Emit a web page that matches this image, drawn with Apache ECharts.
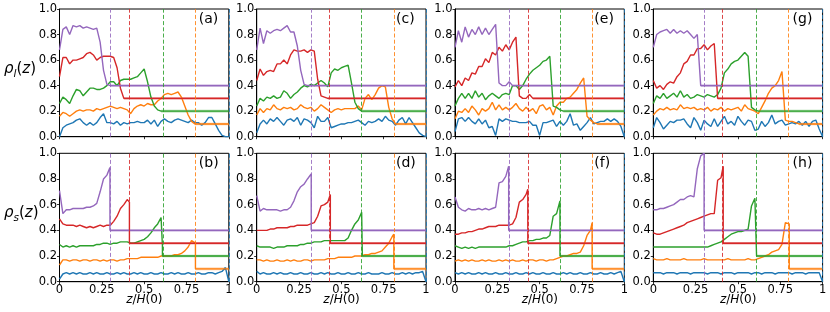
<!DOCTYPE html>
<html><head><meta charset="utf-8">
<script src="https://cdn.jsdelivr.net/npm/echarts@6/dist/echarts.min.js"></script>
<style>html,body{margin:0;padding:0;background:#fff}#c{width:830px;height:312px}</style>
</head><body><div id="c"></div>
<script>
// grid spacing of the sampled profiles (z/H(0))
const STEP = 0.02;
const xTickLabels = ['0', '0.25', '0.5', '0.75', '1'];
const yTickLabels = ['0.0', '0.2', '0.4', '0.6', '0.8', '1.0'];
// bulk densities of the four dense species (purple, red, green, orange)
const tails = [0.4, 0.3, 0.2, 0.1];
// front positions (purple, red, green, orange, blue) per column
const fronts_ab = [0.298, 0.413, 0.608, 0.803, 1.0];
const fronts_cd = [0.322, 0.435, 0.624, 0.81, 1.0];
const fronts_ef = [0.317, 0.43, 0.62, 0.81, 1.0];
const fronts_gh = [0.30, 0.413, 0.61, 0.803, 1.0];

// ---- panel (a): rho_l ----
const a_purple = [0.68,0.84,0.86,0.80,0.87,0.86,0.87,0.85,0.86,0.85,0.84,0.85,0.74,0.52,0.41,0.40];
const a_red = [0.47,0.62,0.62,0.57,0.60,0.60,0.61,0.62,0.65,0.66,0.64,0.60,0.62,0.63,0.63,0.63,0.62,0.54,0.38,0.30];
const a_green = [0.26,0.31,0.29,0.26,0.32,0.37,0.36,0.32,0.35,0.38,0.38,0.37,0.37,0.38,0.40,0.43,0.43,0.40,0.44,0.45,0.45,0.45,0.46,0.47,0.50,0.53,0.43,0.31,0.24,0.21,0.20];
const a_orange = [0.16,0.19,0.18,0.16,0.18,0.20,0.21,0.20,0.21,0.21,0.20,0.22,0.21,0.22,0.23,0.24,0.23,0.22,0.23,0.22,0.21,0.18,0.22,0.24,0.25,0.24,0.26,0.25,0.25,0.28,0.30,0.33,0.34,0.33,0.34,0.35,0.31,0.24,0.17,0.12,0.10];
const a_blue = [0.00,0.07,0.09,0.10,0.11,0.13,0.14,0.11,0.09,0.11, 0.09,0.11,0.15,0.18,0.11,0.11,0.10,0.12,0.09,0.11, 0.10,0.11,0.11,0.12,0.11,0.11,0.13,0.10,0.13,0.08, 0.12,0.14,0.12,0.11,0.13,0.14,0.13,0.12,0.11,0.13, 0.11,0.11,0.09,0.11,0.15,0.15,0.10,0.05,0.01,0.00, 0.00];

// ---- panel (b): rho_s (last value = peak at the front) ----
const b_purple = [0.71,0.53,0.56,0.56,0.57,0.57,0.57,0.57,0.58,0.58,0.59,0.61,0.70,0.80,0.83, 0.89];
const b_red = [0.49,0.45,0.44,0.44,0.44,0.43,0.44,0.43,0.42,0.43,0.42,0.43,0.44,0.43,0.44,0.44,0.47,0.51,0.57,0.60,0.64, 0.62];
const b_green = [0.29,0.27,0.28,0.27,0.28,0.27,0.28,0.28,0.28,0.28, 0.28,0.29,0.29,0.30,0.30,0.29,0.30,0.30,0.31,0.31, 0.31,0.30,0.30,0.31,0.32,0.33,0.35,0.38,0.42,0.45, 0.50, 0.28];
const b_orange = [0.13,0.17,0.17,0.16,0.17,0.17,0.16,0.17,0.17,0.16, 0.17,0.17,0.16,0.17,0.16,0.17,0.17,0.16,0.17,0.17, 0.18,0.18,0.18,0.18,0.19,0.19,0.19,0.19,0.19,0.19, 0.20,0.20,0.20,0.20,0.21,0.21,0.22,0.24,0.27,0.32, 0.30];
const b_blue = [0.02,0.06,0.07,0.06,0.07,0.06,0.07,0.06,0.06,0.07, 0.06,0.07,0.06,0.06,0.07,0.06,0.06,0.07,0.06,0.07, 0.06,0.06,0.07,0.06,0.07,0.06,0.06,0.07,0.06,0.06, 0.07,0.06,0.06,0.07,0.06,0.07,0.06,0.06,0.07,0.06, 0.06,0.07,0.06,0.06,0.07,0.07,0.06,0.07,0.08,0.11, 0.00];

// ---- panel (c) ----
const c_purple = [0.68,0.85,0.73,0.83,0.81,0.83,0.84,0.83,0.85,0.87,0.82,0.82,0.71,0.52,0.41,0.40];
const c_red = [0.44,0.53,0.48,0.51,0.52,0.51,0.57,0.57,0.60,0.57,0.64,0.68,0.67,0.67,0.68,0.66,0.68,0.67,0.45,0.32,0.31,0.30];
const c_green = [0.24,0.30,0.28,0.31,0.30,0.32,0.30,0.31,0.36,0.34, 0.30,0.33,0.35,0.38,0.40,0.39,0.41,0.40,0.42,0.44, 0.42,0.39,0.50,0.53,0.52,0.54,0.55,0.56,0.42,0.27, 0.22,0.20];
const c_orange = [0.17,0.22,0.19,0.22,0.21,0.25,0.22,0.21,0.23,0.22, 0.23,0.21,0.22,0.25,0.23,0.22,0.23,0.20,0.22,0.25, 0.23,0.21,0.19,0.21,0.22,0.21,0.22,0.22,0.22,0.22, 0.24,0.21,0.30,0.33,0.29,0.33,0.38,0.40,0.39,0.23, 0.14,0.10];
const c_blue = [0.03,0.10,0.13,0.10,0.14,0.12,0.15,0.12,0.09,0.13, 0.14,0.12,0.15,0.09,0.14,0.13,0.11,0.07,0.16,0.12, 0.12,0.15,0.07,0.08,0.09,0.10,0.10,0.11,0.11,0.12, 0.13,0.11,0.09,0.12,0.11,0.12,0.14,0.12,0.16,0.13, 0.12,0.09,0.13,0.15,0.10,0.15,0.11,0.07,0.03,0.01, 0.00];

// ---- panel (d) ----
const d_purple = [0.67,0.55,0.57,0.56,0.56,0.56,0.56,0.55,0.56,0.56,0.58,0.63,0.70,0.74,0.76,0.80, 0.84];
const d_red = [0.40,0.40,0.40,0.40,0.41,0.41,0.42,0.42,0.42,0.42,0.43,0.43,0.44,0.44,0.44,0.44,0.45,0.46,0.51,0.59,0.60,0.62, 0.68];
const d_green = [0.28,0.27,0.27,0.27,0.27,0.26,0.27,0.27,0.27,0.28, 0.28,0.28,0.28,0.29,0.29,0.30,0.30,0.31,0.31,0.31, 0.32,0.32,0.32,0.32,0.32,0.32,0.32,0.34,0.40,0.45, 0.48,0.54, 0.55];
const d_orange = [0.17,0.17,0.16,0.17,0.16,0.16,0.17,0.16,0.16,0.17, 0.16,0.17,0.16,0.16,0.17,0.17,0.16,0.17,0.17,0.17, 0.17,0.18,0.18,0.18,0.19,0.19,0.19,0.19,0.19,0.20, 0.20,0.20,0.21,0.21,0.22,0.22,0.23,0.24,0.27,0.30, 0.35, 0.37];
const d_blue = [0.08,0.06,0.07,0.06,0.06,0.07,0.06,0.07,0.06,0.06, 0.07,0.06,0.06,0.07,0.06,0.06,0.07,0.06,0.06,0.07, 0.06,0.07,0.06,0.06,0.07,0.06,0.06,0.07,0.06,0.06, 0.07,0.06,0.06,0.07,0.06,0.06,0.06,0.07,0.06,0.06, 0.07,0.06,0.06,0.07,0.06,0.07,0.06,0.07,0.07,0.08, 0.00];

// ---- panel (e) ----
const e_purple = [0.70,0.83,0.74,0.86,0.78,0.84,0.80,0.86,0.80,0.85,0.80,0.84,0.88,0.42,0.40,0.40,0.43,0.40];
const e_red = [0.39,0.44,0.40,0.46,0.44,0.50,0.49,0.55,0.55,0.61,0.58,0.66,0.64,0.70,0.67,0.72,0.68,0.74,0.78,0.32,0.30,0.30,0.33,0.30];
const e_green = [0.24,0.30,0.34,0.30,0.34,0.30,0.36,0.31,0.34,0.29, 0.32,0.34,0.32,0.30,0.33,0.34,0.33,0.40,0.40,0.37, 0.40,0.45,0.49,0.52,0.54,0.56,0.59,0.60,0.63,0.24, 0.23,0.21,0.20];
const e_orange = [0.14,0.20,0.19,0.22,0.19,0.24,0.21,0.17,0.22,0.20, 0.22,0.27,0.21,0.25,0.21,0.23,0.21,0.23,0.26,0.22, 0.20,0.23,0.20,0.22,0.18,0.24,0.25,0.21,0.23,0.17, 0.24,0.27,0.27,0.30,0.31,0.34,0.37,0.42,0.46,0.16, 0.13,0.11,0.10];
const e_blue = [0.04,0.14,0.15,0.12,0.15,0.12,0.10,0.14,0.10,0.13, 0.07,0.08,0.01,0.14,0.12,0.14,0.13,0.12,0.12,0.11, 0.11,0.11,0.12,0.09,0.09,0.01,0.11,0.11,0.12,0.13, 0.08,0.12,0.09,0.12,0.18,0.09,0.10,0.05,0.08,0.11, 0.15,0.10,0.11,0.12,0.12,0.14,0.12,0.14,0.12,0.08, 0.00];

// ---- panel (f) ----
const f_purple = [0.66,0.58,0.56,0.55,0.57,0.56,0.56,0.57,0.56,0.57,0.56,0.57,0.58,0.77,0.78,0.82, 0.90];
const f_red = [0.37,0.37,0.38,0.38,0.39,0.39,0.40,0.41,0.41,0.42,0.43,0.43,0.43,0.44,0.44,0.44,0.44,0.45,0.50,0.62,0.64,0.68, 0.72];
const f_green = [0.28,0.27,0.26,0.27,0.26,0.27,0.26,0.27,0.27,0.27, 0.27,0.27,0.27,0.27,0.27,0.27,0.28,0.28,0.29,0.30, 0.31,0.31,0.32,0.32,0.33,0.33,0.34,0.34,0.36,0.51, 0.53, 0.63];
const f_orange = [0.16,0.17,0.16,0.17,0.16,0.17,0.16,0.16,0.17,0.16, 0.17,0.16,0.16,0.17,0.16,0.17,0.16,0.17,0.16,0.16, 0.17,0.16,0.17,0.17,0.16,0.17,0.17,0.16,0.17,0.17, 0.18,0.19,0.20,0.20,0.21,0.22,0.22,0.23,0.28,0.36, 0.40, 0.46];
const f_blue = [0.07,0.06,0.07,0.06,0.07,0.06,0.06,0.07,0.06,0.07, 0.06,0.06,0.07,0.06,0.06,0.07,0.06,0.06,0.07,0.06, 0.06,0.07,0.06,0.07,0.06,0.06,0.07,0.06,0.06,0.07, 0.06,0.06,0.07,0.06,0.07,0.06,0.06,0.07,0.06,0.06, 0.07,0.06,0.06,0.07,0.06,0.06,0.07,0.06,0.07,0.08, 0.00];

// ---- panel (g) ----
const g_purple = [0.70,0.80,0.82,0.83,0.84,0.81,0.84,0.81,0.83,0.81,0.83,0.80,0.77,0.80,0.40];
const g_red = [0.44,0.38,0.40,0.37,0.41,0.43,0.42,0.47,0.50,0.57,0.59,0.64,0.64,0.69,0.69,0.72,0.68,0.71,0.73,0.30];
const g_green = [0.26,0.32,0.30,0.34,0.30,0.32,0.34,0.31,0.36,0.31, 0.33,0.30,0.31,0.33,0.32,0.31,0.33,0.32,0.31,0.33, 0.38,0.50,0.53,0.57,0.59,0.60,0.63,0.66,0.63,0.23, 0.21,0.20];
const g_orange = [0.17,0.20,0.22,0.21,0.23,0.21,0.22,0.21,0.25,0.22, 0.23,0.22,0.23,0.21,0.22,0.21,0.23,0.20,0.22,0.21, 0.23,0.20,0.22,0.21,0.22,0.23,0.20,0.25,0.22,0.21, 0.20,0.18,0.23,0.28,0.34,0.38,0.40,0.44,0.51,0.13, 0.12,0.12,0.11,0.10];
const g_blue = [0.07,0.15,0.11,0.06,0.09,0.12,0.11,0.13,0.13,0.14, 0.10,0.07,0.15,0.11,0.05,0.13,0.10,0.08,0.14,0.08, 0.12,0.16,0.10,0.12,0.09,0.16,0.12,0.09,0.13,0.12, 0.05,0.06,0.12,0.08,0.11,0.17,0.10,0.12,0.13,0.09, 0.10,0.11,0.10,0.12,0.09,0.12,0.08,0.12,0.13,0.06, 0.00];

// ---- panel (h) ----
const h_purple = [0.56,0.56,0.57,0.57,0.58,0.59,0.60,0.62,0.64,0.64,0.66,0.67,0.66,0.88,0.98, 1.00];
const h_red = [0.38,0.37,0.37,0.38,0.39,0.40,0.41,0.42,0.43,0.44,0.46,0.47,0.48,0.49,0.50,0.51,0.52,0.53,0.53,0.79,0.81, 0.90];
const h_green = [0.27,0.27,0.27,0.27,0.27,0.27,0.27,0.27,0.27,0.27, 0.27,0.27,0.27,0.27,0.27,0.27,0.27,0.28,0.29,0.30, 0.31,0.33,0.35,0.37,0.38,0.39,0.39,0.40,0.41,0.59, 0.65, 0.64];
const h_orange = [0.18,0.17,0.17,0.17,0.18,0.17,0.17,0.17,0.17,0.18, 0.17,0.17,0.17,0.17,0.17,0.18,0.17,0.17,0.17,0.17, 0.17,0.17,0.18,0.17,0.17,0.17,0.17,0.17,0.18,0.17, 0.17,0.18,0.19,0.20,0.21,0.23,0.24,0.25,0.29,0.46, 0.45];
const h_blue = [0.07,0.07,0.07,0.06,0.07,0.07,0.07,0.06,0.07,0.07, 0.07,0.06,0.07,0.07,0.07,0.07,0.06,0.07,0.07,0.07, 0.06,0.07,0.07,0.07,0.06,0.07,0.07,0.07,0.07,0.06, 0.07,0.07,0.06,0.07,0.07,0.07,0.06,0.07,0.07,0.07, 0.07,0.06,0.07,0.07,0.07,0.06,0.07,0.07,0.07,0.07, 0.00];

const panelLabels = ['(a)','(b)','(c)','(d)','(e)','(f)','(g)','(h)'];
const panels = [
  {row:0,col:0,s:[a_purple,a_red,a_green,a_orange,a_blue],fr:fronts_ab},
  {row:1,col:0,s:[b_purple,b_red,b_green,b_orange,b_blue],fr:fronts_ab},
  {row:0,col:1,s:[c_purple,c_red,c_green,c_orange,c_blue],fr:fronts_cd},
  {row:1,col:1,s:[d_purple,d_red,d_green,d_orange,d_blue],fr:fronts_cd},
  {row:0,col:2,s:[e_purple,e_red,e_green,e_orange,e_blue],fr:fronts_ef},
  {row:1,col:2,s:[f_purple,f_red,f_green,f_orange,f_blue],fr:fronts_ef},
  {row:0,col:3,s:[g_purple,g_red,g_green,g_orange,g_blue],fr:fronts_gh},
  {row:1,col:3,s:[h_purple,h_red,h_green,h_orange,h_blue],fr:fronts_gh}
];
const COLORS = ['#9467bd','#d62728','#2ca02c','#ff7f0e','#1f77b4']; // purple, red, green, orange, blue

// layout (px)
const LEFTS = [59.5, 256.7, 455, 653.3];
const W = 169.3;
const TOPS = [9, 153.3];
const HS = [127.7, 128.4];
const FONT = 'DejaVu Sans';

const grids = [], xAxes = [], yAxes = [], series = [], graphics = [];

function r3(v){ return Math.round(v*1000)/1000; }

panels.forEach((p, gi) => {
  grids.push({left: LEFTS[p.col], top: TOPS[p.row], width: W, height: HS[p.row],
    show: true, borderColor: '#000', borderWidth: 1, backgroundColor: 'transparent'});
  xAxes.push({gridIndex: gi, type: 'value', min: 0, max: 1, interval: 0.25,
    axisLine: {show: true, onZero: false, lineStyle: {color: '#000', width: 1}},
    axisTick: {show: true, length: 2.5, lineStyle: {color: '#000', width: 0.8}},
    axisLabel: {show: p.row === 1, fontSize: 11.5, color: '#000', margin: 2, fontFamily: FONT,
      showMinLabel: true, showMaxLabel: true,
      formatter: v => xTickLabels[Math.round(v / 0.25)]},
    splitLine: {show: false}});
  yAxes.push({gridIndex: gi, type: 'value', min: 0, max: 1, interval: 0.2,
    axisLine: {show: true, onZero: false, lineStyle: {color: '#000', width: 1}},
    axisTick: {show: true, length: 2.5, lineStyle: {color: '#000', width: 0.8}},
    axisLabel: {fontSize: 11.5, color: '#000', margin: 2.5, fontFamily: FONT,
      showMinLabel: true, showMaxLabel: true,
      formatter: v => yTickLabels[Math.round(v / 0.2)]},
    splitLine: {show: false}});

  // order drawn: blue, orange, green, red, purple (purple on top)
  for (let k = 4; k >= 0; k--) {
    const vals = p.s[k];
    const col = COLORS[k];
    let pts;
    let tailStart = null;
    if (k === 4) {
      pts = vals.map((v, i) => [r3(i * STEP), v]);
    } else if (p.row === 0) {
      pts = vals.map((v, i) => [r3(i * STEP), v]);
      tailStart = pts[pts.length - 1][0];
      pts.push([1, tails[k]]);
    } else {
      pts = vals.slice(0, -1).map((v, i) => [r3(i * STEP), v]);
      pts.push([p.fr[k], vals[vals.length - 1]]);
      pts.push([p.fr[k], tails[k]]);
      pts.push([1, tails[k]]);
      tailStart = p.fr[k];
    }
    if (tailStart !== null) {
      series.push({type: 'line', xAxisIndex: gi, yAxisIndex: gi, symbol: 'none', silent: true,
        data: [[tailStart, tails[k]], [1, tails[k]]],
        lineStyle: {color: col, width: 2.6, opacity: 0.4}, z: 1});
    }
    series.push({type: 'line', xAxisIndex: gi, yAxisIndex: gi, symbol: 'none', silent: true,
      data: pts, lineStyle: {color: col, width: 1.4}, z: 3,
      markLine: {silent: true, symbol: ['none', 'none'], label: {show: false},
        lineStyle: {color: col, type: [4, 2.2], width: 1, opacity: 0.85},
        data: [{xAxis: p.fr[k]}]}});
  }

  graphics.push({type: 'text', left: LEFTS[p.col] + W - 30, top: TOPS[p.row] + 3,
    style: {text: panelLabels[gi], font: '14px "DejaVu Sans"', fill: '#000'}});
  if (p.row === 1) {
    graphics.push({type: 'text', left: LEFTS[p.col] + W / 2 - 18, top: 294,
      style: {text: '{i|z}{n|/}{i|H}{n|(0)}', rich: {
        i: {fontFamily: FONT, fontStyle: 'italic', fontSize: 12, fill: '#000'},
        n: {fontFamily: FONT, fontSize: 12, fill: '#000'}}}});
  }
});

function yName(sub, y) {
  return {type: 'text', left: 4, top: y,
    style: {text: '{r|ρ}{s|' + sub + '}{n|(}{i|z}{n|)}', rich: {
      r: {fontFamily: FONT, fontStyle: 'italic', fontSize: 15, fill: '#000'},
      s: {fontFamily: FONT, fontStyle: 'italic', fontSize: 10.5, fill: '#000', padding: [9, 0, 0, 0]},
      i: {fontFamily: FONT, fontStyle: 'italic', fontSize: 15, fill: '#000'},
      n: {fontFamily: FONT, fontSize: 15, fill: '#000'}}}};
}
graphics.push(yName('l', 62));
graphics.push(yName('s', 206));

const chart = echarts.init(document.getElementById('c'), null, {renderer: 'canvas'});
chart.setOption({animation: false, backgroundColor: '#fff',
  grid: grids, xAxis: xAxes, yAxis: yAxes, series: series, graphic: graphics});
</script></body></html>
